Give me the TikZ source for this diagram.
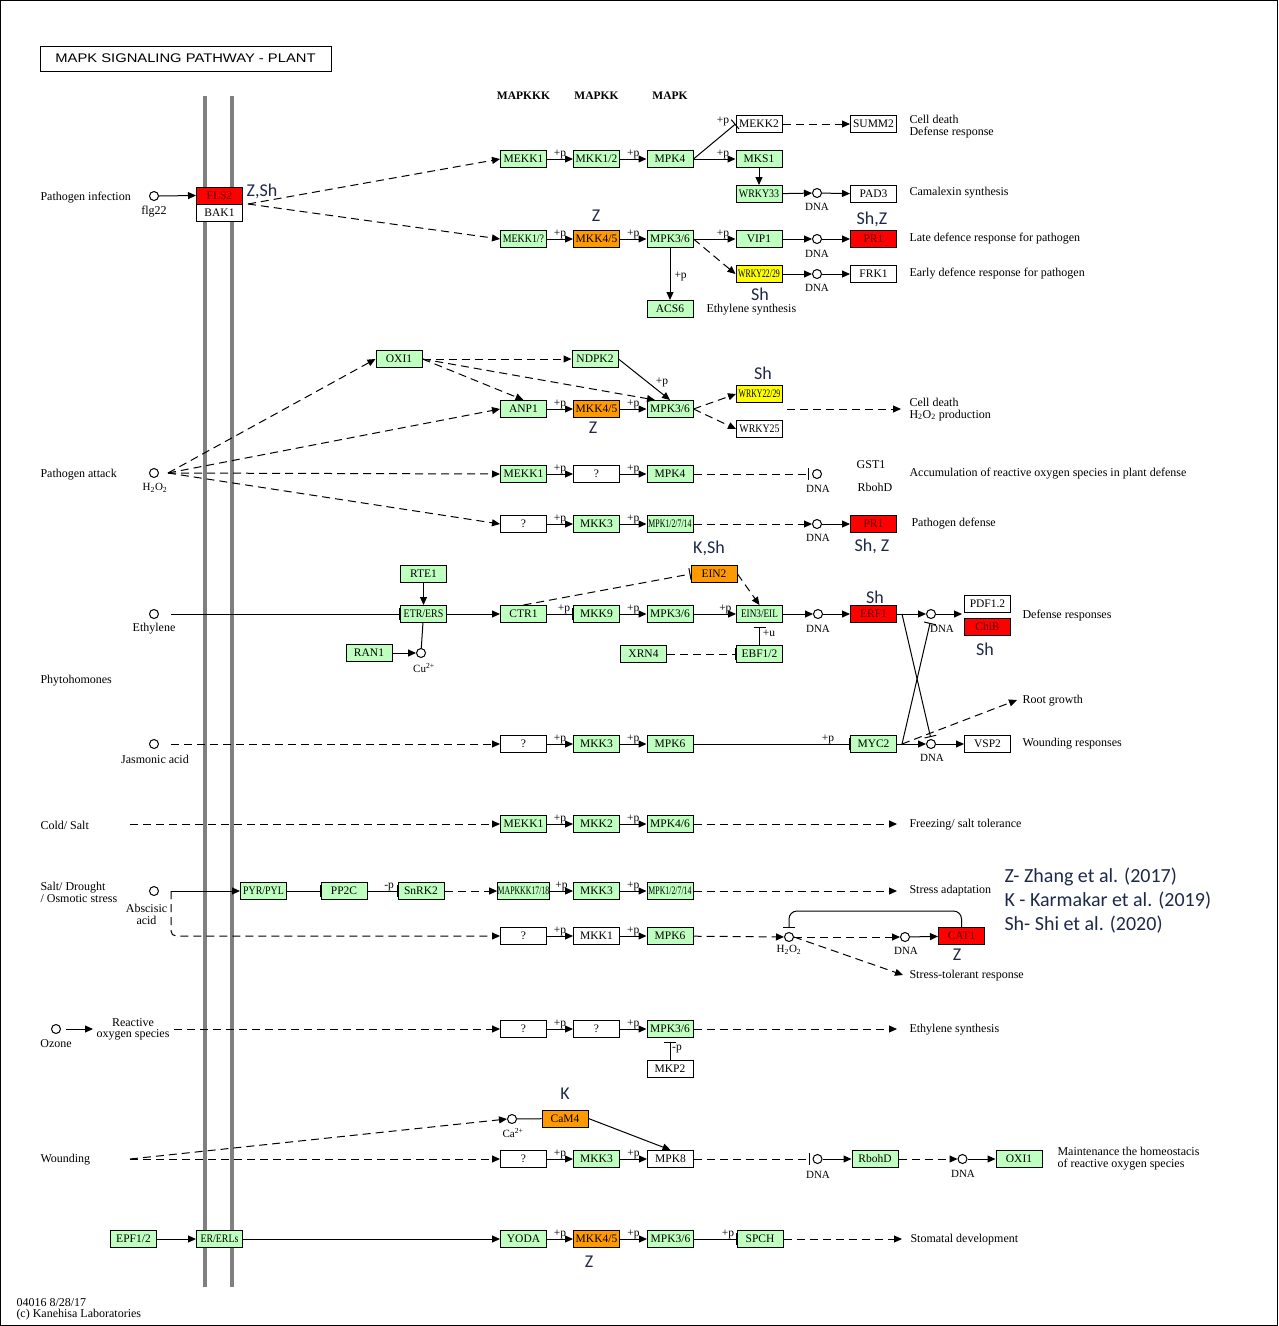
\documentclass[tikz,border=0pt]{standalone}
\usepackage{fontspec}
\usepackage{tikz}
\usetikzlibrary{arrows.meta}
\newfontfamily\keggfam{Liberation Serif}
\newfontfamily\notefam{Carlito}
\newfontfamily\titlefam{Liberation Sans}
\newcommand\kfont{\keggfam\fontsize{11.5}{11.5}\selectfont}
\newcommand\lfont{\keggfam\fontsize{12}{11.5}\selectfont}
\newcommand\ksmall{\keggfam\fontsize{11}{11}\selectfont}
\newcommand\nfont{\notefam\fontsize{18}{18}\selectfont}
\newcommand\rfont{\notefam\fontsize{20}{24}\selectfont}
\newcommand\sq[1]{\scalebox{0.68}[1]{#1}}
\newcommand\sqb[1]{\scalebox{0.86}[1]{#1}}
\definecolor{kgreen}{RGB}{191,255,191}
\definecolor{kred}{RGB}{255,0,0}
\definecolor{korange}{RGB}{255,153,0}
\definecolor{kyellow}{RGB}{255,255,0}
\definecolor{kgray}{RGB}{128,128,128}
\definecolor{kdark}{RGB}{90,0,0}
\definecolor{knote}{RGB}{30,40,75}
\tikzset{every picture/.style={line width=1pt}}

\begin{document}
\begin{tikzpicture}[x=1pt,y=1pt,yscale=-1,xscale=1,
  gene/.style={draw, fill=white, minimum width=46pt, minimum height=17pt, inner sep=0pt, font=\kfont},
  gr/.style={gene, fill=kgreen},
  rd/.style={gene, fill=kred, text=kdark},
  og/.style={gene, fill=korange},
  yl/.style={gene, fill=kyellow},
  cpd/.style={circle, draw, fill=white, minimum size=9pt, inner sep=0pt},
  lbl/.style={font=\lfont, inner sep=0pt},
  sml/.style={font=\ksmall, inner sep=0pt},
  pp/.style={font=\kfont, inner sep=0pt},
  hdr/.style={font=\kfont\bfseries, inner sep=0pt},
  note/.style={font=\nfont, text=knote, inner sep=0pt},
  act/.style={-{Triangle[length=8pt,width=7pt]}},
  inh/.style={-{Bar[width=12pt]}},
  dsh/.style={dash pattern=on 8pt off 5pt},
  memb/.style={draw=kgray, line width=4pt}]
\useasboundingbox (0,0) rectangle (1278,1326);
\draw (0.5,0.5) rectangle (1277.5,1325.5);

%membrane
\draw[memb] (205,96) -- (205,1287);
\draw[memb] (232,96) -- (232,1287);

%title and headers
\node[draw, minimum width=291pt, minimum height=25pt, inner sep=0pt, font=\titlefam\fontsize{12.5}{12.5}\selectfont] (title) at (185.5,58.5) {\scalebox{1.18}[1]{MAPK SIGNALING PATHWAY - PLANT}};
\node[hdr] (hkkk) at (523.5,96) {MAPKKK};
\node[hdr] (hkk) at (596.5,96) {MAPKK};
\node[hdr] (hk) at (670,96) {MAPK};

%Pathogen infection
\node[lbl, anchor=west] (tpinf) at (40,198) {Pathogen infection};
\node[cpd] (flg) at (154,196) {};
\node[lbl] (tflg) at (154,212) {flg22};
\node[rd] (fls2) at (219.5,195.5) {FLS2};
\node[gene] (bak1) at (219.5,212.5) {BAK1};
\coordinate (flsout) at (248,204);
\node[note] (nfls) at (262,191) {Z,Sh};

\node[gr] (mekkA) at (523.5,159) {MEKK1};
\node[gr] (mkkA) at (596.5,159) {MKK1/2};
\node[gr] (mpkA) at (670,159) {MPK4};
\node[gene] (mekk2) at (759,124) {MEKK2};
\node[gr] (mks1) at (759,159) {MKS1};
\node[gr] (wrky33) at (759,194) {\sqb{WRKY33}};
\node[gene] (summ2) at (873.5,124) {SUMM2};
\node[cpd] (dnaA) at (817,193) {};
\node[sml] at (817,207) {DNA};
\node[gene] (pad3) at (873.5,194) {PAD3};
\node[lbl, anchor=west, align=left] (tcd) at (909,126.5) {Cell death\\Defense response};
\node[lbl, anchor=west] (tcam) at (909,193) {Camalexin synthesis};

\node[gr] (mekkB) at (523.5,239) {\sqb{MEKK1/?}};
\node[og] (mkkB) at (596.5,239) {MKK4/5};
\node[note] at (596,216) {Z};
\node[gr] (mpkB) at (670,239) {MPK3/6};
\node[gr] (vip1) at (759,239) {VIP1};
\node[cpd] (dnaB) at (817,239) {};
\node[sml] at (817,254) {DNA};
\node[rd] (pr1A) at (873.5,239) {PR1};
\node[note] at (872,219) {Sh,Z};
\node[yl] (wrkyA) at (759,274) {\sq{WRKY22/29}};
\node[note] at (760,294) {Sh};
\node[cpd] (dnaC) at (817,274) {};
\node[sml] at (817,288) {DNA};
\node[gene] (frk1) at (873.5,274) {FRK1};
\node[gr] (acs6) at (670,309) {ACS6};
\node[lbl, anchor=west] (teth1) at (706,310) {Ethylene synthesis};
\node[lbl, anchor=west] (tlate) at (909,239) {Late defence response for pathogen};
\node[lbl, anchor=west] (tearly) at (909,274) {Early defence response for pathogen};

\draw[act] (flg.east) -- (fls2.west);
\draw[act, dsh] (flsout) -- (mekkA.west);
\draw[act, dsh] (flsout) -- (mekkB.west);
\draw[act] (mekkA) -- node[pp, above]{+p} (mkkA);
\draw[act] (mkkA) -- node[pp, above]{+p} (mpkA);
\draw[inh] (mpkA.east) -- (mekk2.west);
\node[pp] at (723,121) {+p};
\draw[act] (mpkA) -- node[pp, above, pos=.7]{+p} (mks1);
\draw[act] (mks1) -- (wrky33);
\draw[act] (wrky33) -- (dnaA);
\draw[act] (dnaA) -- (pad3);
\draw[act, dsh] (mekk2) -- (summ2);
\draw[act] (mekkB) -- node[pp, above]{+p} (mkkB);
\draw[act] (mkkB) -- node[pp, above]{+p} (mpkB);
\draw[act] (mpkB) -- node[pp, above, pos=.7]{+p} (vip1);
\draw[act, dsh] (mpkB.east) -- (wrkyA.west);
\draw[act] (mpkB) -- node[pp, right=4pt, pos=.55]{+p} (acs6);
\draw[act] (vip1) -- (dnaB);
\draw[act] (dnaB) -- (pr1A);
\draw[act] (wrkyA) -- (dnaC);
\draw[act] (dnaC) -- (frk1);

%Pathogen attack
\node[lbl, anchor=west] (tpatt) at (40,475) {Pathogen attack};
\node[cpd] (h2o2A) at (154,473) {};
\node[sml] at (155,488) {H\textsubscript{2}O\textsubscript{2}};
\coordinate (h2o2j) at (168,473);
\node[gr] (oxi1) at (399,359) {OXI1};
\node[gr] (ndpk2) at (595,359) {NDPK2};
\node[gr] (anp1) at (523.5,409) {ANP1};
\node[og] (mkkC) at (596.5,409) {MKK4/5};
\node[note] at (593,428) {Z};
\node[gr] (mpkC) at (670,409) {MPK3/6};
\node[yl] (wrkyB) at (759.5,394) {\sq{WRKY22/29}};
\node[note] at (763,373) {Sh};
\node[gene] (wrky25) at (759.5,429) {\sqb{WRKY25}};
\coordinate (wrkyout) at (787,409);
\coordinate (cellB) at (901,409);
\node[lbl, anchor=west, align=left] (tcdB) at (909,409.5) {Cell death\\H\textsubscript{2}O\textsubscript{2} production};

\node[gr] (mekkD) at (523.5,474) {MEKK1};
\node[gene] (qA) at (596.5,474) {?};
\node[gr] (mpkD) at (670,474) {MPK4};
\node[cpd] (dnaD) at (817,474) {};
\node[sml] at (818,489) {DNA};
\node[lbl] at (871,465) {GST1};
\node[lbl] at (875,487) {RbohD};
\node[lbl, anchor=west] (tacc) at (909,474) {Accumulation of reactive oxygen species in plant defense};

\node[gene] (qB) at (523.5,524) {?};
\node[gr] (mkk3A) at (596.5,524) {MKK3};
\node[gr] (mpkE) at (670,524) {\sq{MPK1/2/7/14}};
\node[cpd] (dnaE) at (817,524) {};
\node[sml] at (818,538) {DNA};
\node[rd] (pr1B) at (873.5,524) {PR1};
\node[note] at (872,546) {Sh, Z};
\node[lbl, anchor=west] (tpdef) at (911,524) {Pathogen defense};

\draw[act, dsh] (h2o2j) -- (oxi1.west);
\draw[act, dsh] (h2o2j) -- (anp1.west);
\draw[act, dsh] (h2o2j) -- (mekkD.west);
\draw[act, dsh] (h2o2j) -- (qB.west);
\draw[act, dsh] (oxi1) -- (ndpk2);
\draw[act, dsh] (oxi1.east) -- (anp1.north);
\draw[act, dsh] (oxi1.east) -- (mpkC.149);
\draw[act] (ndpk2.east) -- (mpkC.north);
\node[pp] at (662,382) {+p};
\draw[act] (anp1) -- node[pp, above]{+p} (mkkC);
\draw[act] (mkkC) -- node[pp, above]{+p} (mpkC);
\draw[act, dsh] (mpkC.east) -- (wrkyB.west);
\draw[act, dsh] (mpkC.east) -- (wrky25.west);
\draw[act, dsh] (wrkyout) -- (cellB);
\draw[act] (mekkD) -- node[pp, above]{+p} (qA);
\draw[act] (qA) -- node[pp, above]{+p} (mpkD);
\draw[inh, dsh, shorten >=3pt] (mpkD) -- (dnaD);
\draw[act] (qB) -- node[pp, above]{+p} (mkk3A);
\draw[act] (mkk3A) -- node[pp, above]{+p} (mpkE);
\draw[act, dsh] (mpkE) -- (dnaE);
\draw[act] (dnaE) -- (pr1B);

%Ethylene
\node[cpd] (ethyl) at (154,614) {};
\node[lbl] at (154,629) {Ethylene};
\coordinate (ethj) at (171,614);
\node[gr] (etr) at (423.5,614) {\sqb{ETR/ERS}};
\node[gr] (rte1) at (423.5,574) {RTE1};
\node[gr] (ran1) at (369,653) {RAN1};
\node[cpd] (cu) at (421,653) {};
\node[sml] at (424,668) {Cu\textsuperscript{2+}};
\node[gr] (ctr1) at (523.5,614) {CTR1};
\node[gr] (mkk9) at (596.5,614) {MKK9};
\node[gr] (mpkF) at (670,614) {MPK3/6};
\node[gr] (ein3) at (759.5,614) {\scalebox{0.8}[1]{EIN3/EIL}};
\node[og] (ein2) at (714,574) {EIN2};
\node[note] at (709,548) {K,Sh};
\node[gr] (xrn4) at (643.5,654) {XRN4};
\node[gr] (ebf) at (759.5,654) {EBF1/2};
\node[pp] at (769,633) {+u};
\node[cpd] (dnaF) at (818,614) {};
\node[sml] at (818,629) {DNA};
\node[rd] (erf1) at (873.5,614) {ERF1};
\node[note] at (875,597) {Sh};
\coordinate (erfj) at (902,614);
\node[cpd] (dnaG) at (931,614) {};
\node[sml] at (942,629) {DNA};
\coordinate (defin) at (962,614);
\node[gene] (pdf) at (987.5,603.5) {PDF1.2};
\node[rd] (chib) at (987.5,627) {ChiB};
\node[note] at (985,649) {Sh};
\node[lbl, anchor=west] (tdef) at (1022,616) {Defense responses};
\node[lbl, anchor=west] (tphy) at (40,681) {Phytohomones};

\draw[inh] (ethj) -- (etr.west);
\draw[act] (rte1) -- (etr);
\draw[act] (ran1) -- (cu);
\draw (cu) -- (etr);
\draw[act] (etr) -- (ctr1);
\draw[inh] (ctr1) -- node[pp, above, pos=.65]{+p} (mkk9);
\draw[act] (mkk9) -- node[pp, above]{+p} (mpkF);
\draw[act] (mpkF) -- node[pp, above, pos=.75]{+p} (ein3);
\draw[inh, dsh] (ctr1.north) -- (ein2.west);
\draw[act, dsh] (ein2.east) -- (ein3.north);
\draw[inh, dsh] (xrn4) -- (ebf);
\draw[inh, shorten >=4pt] (ebf) -- (ein3);
\draw[act] (ein3) -- (dnaF);
\draw[act] (dnaF) -- (erf1);
\draw[act] (erf1) -- (dnaG);
\draw[act] (dnaG) -- (defin);

%Jasmonic acid
\node[cpd] (ja) at (154,744) {};
\node[lbl] at (155,759) {Jasmonic acid};
\coordinate (jaj) at (171,744);
\node[gene] (qC) at (523.5,744) {?};
\node[gr] (mkk3B) at (596.5,744) {MKK3};
\node[gr] (mpk6A) at (670,744) {MPK6};
\node[gr] (myc2) at (873.5,744) {MYC2};
\coordinate (mycj) at (902,744);
\node[cpd] (dnaH) at (931,744) {};
\node[sml] at (932,758) {DNA};
\node[gene] (vsp2) at (987.5,744) {VSP2};
\coordinate (root) at (1017,700);
\node[lbl, anchor=west] (troot) at (1022,701) {Root growth};
\node[lbl, anchor=west] (twound) at (1022,744) {Wounding responses};

\draw[act, dsh] (jaj) -- (qC.west);
\draw[act] (qC) -- node[pp, above]{+p} (mkk3B);
\draw[act] (mkk3B) -- node[pp, above]{+p} (mpk6A);
\draw[inh] (mpk6A) -- node[pp, above, pos=.86]{+p} (myc2);
\draw[act] (myc2) -- (dnaH);
\draw[act] (dnaH) -- (vsp2);
\draw[act, dsh] (mycj) -- (root);
\draw[inh, shorten >=2pt] (erfj) -- (dnaH.north);
\draw[inh, shorten >=4pt] (mycj) -- (dnaG.south);

%Cold/ Salt
\node[lbl, anchor=west] (tcold) at (40,825) {Cold/ Salt};
\coordinate (coldj) at (130,824);
\node[gr] (mekkE) at (523.5,824) {MEKK1};
\node[gr] (mkk2) at (596.5,824) {MKK2};
\node[gr] (mpkG) at (670,824) {MPK4/6};
\coordinate (freez) at (897,824);
\node[lbl, anchor=west] (tfreez) at (909,825) {Freezing/ salt tolerance};

\draw[act, dsh] (coldj) -- (mekkE.west);
\draw[act] (mekkE) -- node[pp, above]{+p} (mkk2);
\draw[act] (mkk2) -- node[pp, above]{+p} (mpkG);
\draw[act, dsh] (mpkG) -- (freez);

%Salt/ Drought
\node[lbl, anchor=west, align=left] (tsalt) at (40,892.5) {Salt/ Drought\\/ Osmotic stress};
\node[cpd] (aba) at (154,891) {};
\node[lbl, align=center] at (146.5,914.5) {Abscisic\\acid};
\coordinate (abaj) at (171,891);
\node[gr] (pyr) at (263.5,891) {\sqb{PYR/PYL}};
\node[gr] (pp2c) at (344,891) {PP2C};
\node[gr] (snrk2) at (421,891) {SnRK2};
\node[gr] (mapkkk) at (523.5,891) {\sq{MAPKKK17/18}};
\node[gr] (mkk3C) at (596.5,891) {MKK3};
\node[gr] (mpkH) at (670,891) {\sq{MPK1/2/7/14}};
\coordinate (stradapt) at (897,891);
\node[lbl, anchor=west] (tstr) at (909,891) {Stress adaptation};
\node[gene] (qD) at (523.5,936) {?};
\node[gene] (mkk1) at (596.5,936) {MKK1};
\node[gr] (mpk6B) at (670,936) {MPK6};
\node[cpd] (h2o2B) at (789,937) {};
\node[sml] at (789,950) {H\textsubscript{2}O\textsubscript{2}};
\coordinate (fbtop) at (0,911);
\node[cpd] (dnaK) at (905,937) {};
\node[sml] at (906,951) {DNA};
\node[rd] (cat1) at (961.5,936) {CAT1};
\node[note] at (957,955) {Z};
\coordinate (sttol) at (903,975);
\node[lbl, anchor=west] (tsttol) at (909,976) {Stress-tolerant response};

\draw[act] (abaj) -- (pyr.west);
\draw[act, dsh, rounded corners=5pt] (abaj) |- (qD.west);
\draw[inh] (pyr) -- (pp2c);
\draw[inh] (pp2c) -- node[pp, above, pos=.72]{-p} (snrk2);
\draw[act, dsh] (snrk2) -- (mapkkk);
\draw[act] (mapkkk) -- node[pp, above]{+p} (mkk3C);
\draw[act] (mkk3C) -- node[pp, above]{+p} (mpkH);
\draw[act, dsh] (mpkH) -- (stradapt);
\draw[act] (qD) -- node[pp, above]{+p} (mkk1);
\draw[act] (mkk1) -- node[pp, above]{+p} (mpk6B);
\draw[act, dsh] (mpk6B) -- (h2o2B);
\draw[act, dsh] (h2o2B) -- (dnaK);
\draw[act] (dnaK) -- (cat1);
\draw[inh, rounded corners=8pt, shorten >=4pt] (cat1.north) -- (cat1.north |- fbtop) -- (h2o2B.north |- fbtop) -- (h2o2B.north);
\draw[act, dsh] (h2o2B.east) -- (sttol);

%references
\node[font=\rfont, text=knote, inner sep=0pt, anchor=west, align=left] (refs) at (1004,901) {Z- Zhang et al. (2017)\\K - Karmakar et al. (2019)\\Sh- Shi et al. (2020)};

%Ozone
\node[cpd] (ozone) at (56,1029) {};
\node[lbl] at (56,1044) {Ozone};
\coordinate (rosin) at (93,1029);
\node[lbl, align=center] (tros) at (133,1029.5) {Reactive\\oxygen species};
\coordinate (rosj) at (174,1029);
\node[gene] (qE) at (523.5,1029) {?};
\node[gene] (qF) at (596.5,1029) {?};
\node[gr] (mpkI) at (670,1029) {MPK3/6};
\node[gene] (mkp2) at (670,1069) {MKP2};
\node[pp] at (677,1049) {-p};
\coordinate (ethsyn) at (897,1029);
\node[lbl, anchor=west] (teth2) at (909,1030) {Ethylene synthesis};

\draw[act] (ozone.east) ++(5,0) -- (rosin);
\draw[act, dsh] (rosj) -- (qE.west);
\draw[act] (qE) -- node[pp, above]{+p} (qF);
\draw[act] (qF) -- node[pp, above]{+p} (mpkI);
\draw[act, dsh] (mpkI) -- (ethsyn);
\draw[inh, shorten >=3.5pt] (mkp2) -- (mpkI);

%Wounding
\node[lbl, anchor=west] (twnd) at (40,1160) {Wounding};
\coordinate (wndj) at (130,1159);
\node[cpd] (ca) at (512,1119) {};
\node[sml] at (513,1133) {Ca\textsuperscript{2+}};
\node[og] (cam4) at (565,1118.5) {CaM4};
\node[note] at (565,1094) {K};
\node[gene] (qG) at (523.5,1159) {?};
\node[gr] (mkk3D) at (596.5,1159) {MKK3};
\node[gene] (mpk8) at (670.5,1159) {MPK8};
\node[cpd] (dnaI) at (817.5,1159) {};
\node[sml] at (818,1175) {DNA};
\node[gr] (rbohd) at (875,1159) {RbohD};
\node[cpd] (dnaJ) at (962.5,1159) {};
\node[sml] at (963,1174) {DNA};
\node[gr] (oxi1B) at (1019,1159) {OXI1};
\node[lbl, anchor=west, align=left] (thom) at (1057,1158.5) {Maintenance the homeostacis\\of reactive oxygen species};

\draw[act, dsh] (wndj) -- (qG.west);
\draw[act, dsh] (wndj) -- (ca.west);
\draw (ca) -- (cam4);
\draw[act] (cam4.east) -- (mpk8.north);
\draw[act] (qG) -- node[pp, above]{+p} (mkk3D);
\draw[act] (mkk3D) -- node[pp, above]{+p} (mpk8);
\draw[inh, dsh, shorten >=3pt] (mpk8) -- (dnaI);
\draw[act] (dnaI) -- (rbohd);
\draw[act, dsh] (rbohd) -- (dnaJ);
\draw[act] (dnaJ) -- (oxi1B);

%Stomatal development
\node[gr] (epf) at (133.5,1239) {EPF1/2};
\node[gr] (erl) at (219.5,1239) {\sqb{ER/ERLs}};
\node[gr] (yoda) at (523.5,1239) {YODA};
\node[og] (mkkD) at (596.5,1239) {MKK4/5};
\node[note] at (589,1262) {Z};
\node[gr] (mpkJ) at (670.5,1239) {MPK3/6};
\node[gr] (spch) at (760,1239) {SPCH};
\coordinate (stom) at (902,1239);
\node[lbl, anchor=west] (tstom) at (910,1240) {Stomatal development};

\draw[act] (epf) -- (erl);
\draw[act] (erl) -- (yoda);
\draw[act] (yoda) -- node[pp, above]{+p} (mkkD);
\draw[act] (mkkD) -- node[pp, above]{+p} (mpkJ);
\draw[inh] (mpkJ) -- node[pp, above, pos=.8]{+p} (spch);
\draw[act, dsh] (spch) -- (stom);

%footer
\node[lbl, anchor=west, align=left] (foot) at (16,1309.5) {04016 8/28/17\\(c) Kanehisa Laboratories};
\end{tikzpicture}
\end{document}
